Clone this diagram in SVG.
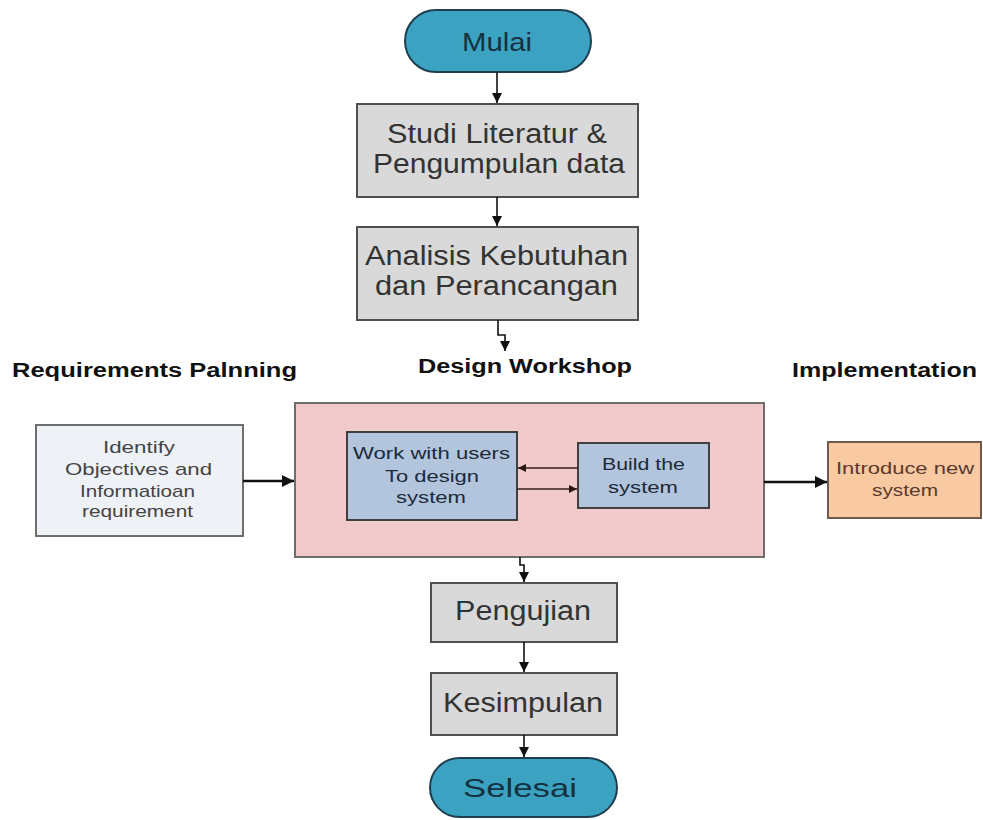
<svg xmlns="http://www.w3.org/2000/svg" width="983" height="820" viewBox="0 0 983 820">
<style>
text{font-family:"Liberation Sans",Arial,sans-serif;text-anchor:middle}
.term{fill:#3ba2c2;stroke:#1f3f4f;stroke-width:2}
.gray{fill:#d9d9d9;stroke:#505050;stroke-width:2}
.big{font-size:27px;fill:#333}
.tt{font-size:26px;fill:#14323f}
.lbl{font-size:20px;font-weight:bold;fill:#111}
.sm{font-size:17px;fill:#444}
.smb{font-size:17px;fill:#1c2a3a}
.con{fill:none;stroke:#111;stroke-width:1.6}
.thick{fill:none;stroke:#111;stroke-width:2.6}
.inner{fill:none;stroke:#3a1e1e;stroke-width:1.5}
</style>
<defs>
<marker id="ah" viewBox="0 0 10 10" refX="10" refY="5" markerWidth="10" markerHeight="10" markerUnits="userSpaceOnUse" orient="auto"><path d="M0,0 L10,5 L0,10 z" fill="#111"/></marker>
<marker id="ahb" viewBox="0 0 10 10" refX="10" refY="5" markerWidth="13" markerHeight="12" markerUnits="userSpaceOnUse" orient="auto"><path d="M0,0 L10,5 L0,10 z" fill="#111"/></marker>
<marker id="ahr" viewBox="0 0 10 10" refX="10" refY="5" markerWidth="10" markerHeight="8" markerUnits="userSpaceOnUse" orient="auto"><path d="M0,0 L10,5 L0,10 z" fill="#2a1414"/></marker>
</defs>

<g id="labels">
<text class="lbl" x="154.5" y="377" textLength="285" lengthAdjust="spacingAndGlyphs">Requirements Palnning</text>
<text class="lbl" x="525" y="373" textLength="214" lengthAdjust="spacingAndGlyphs">Design Workshop</text>
<text class="lbl" x="884.5" y="377" textLength="185" lengthAdjust="spacingAndGlyphs">Implementation</text>
</g>

<g id="mulai">
<rect class="term" x="405" y="10" width="186" height="62" rx="31"/>
<text class="tt" x="497" y="51" textLength="70" lengthAdjust="spacingAndGlyphs">Mulai</text>
</g>

<g id="studi">
<rect class="gray" x="357" y="104" width="281" height="93"/>
<text class="big" x="497" y="143" textLength="220" lengthAdjust="spacingAndGlyphs">Studi Literatur &amp;</text>
<text class="big" x="499" y="173" textLength="252" lengthAdjust="spacingAndGlyphs">Pengumpulan data</text>
</g>

<g id="analisis">
<rect class="gray" x="357" y="227" width="281" height="93"/>
<text class="big" x="496.5" y="265" textLength="263" lengthAdjust="spacingAndGlyphs">Analisis Kebutuhan</text>
<text class="big" x="496.5" y="295" textLength="243" lengthAdjust="spacingAndGlyphs">dan Perancangan</text>
</g>

<g id="identify">
<rect x="36" y="425" width="207" height="111" fill="#eef1f6" stroke="#6e6e6e" stroke-width="2"/>
<text class="sm" x="139" y="453" textLength="72" lengthAdjust="spacingAndGlyphs">Identify</text>
<text class="sm" x="138.5" y="475" textLength="147" lengthAdjust="spacingAndGlyphs">Objectives and</text>
<text class="sm" x="137.5" y="497" textLength="115" lengthAdjust="spacingAndGlyphs">Informatioan</text>
<text class="sm" x="137.5" y="517" textLength="111" lengthAdjust="spacingAndGlyphs">requirement</text>
</g>

<g id="workshop">
<rect x="295" y="403" width="469" height="154" fill="#f1cbcb" stroke="#6e6e6e" stroke-width="2"/>
</g>

<g id="work-users">
<rect x="347" y="432" width="170" height="88" fill="#b2c5dd" stroke="#404040" stroke-width="2"/>
<text class="smb" x="431.5" y="459" textLength="157" lengthAdjust="spacingAndGlyphs">Work with users</text>
<text class="smb" x="432" y="482" textLength="94" lengthAdjust="spacingAndGlyphs">To design</text>
<text class="smb" x="431" y="503" textLength="70" lengthAdjust="spacingAndGlyphs">system</text>
</g>

<g id="build">
<rect x="578" y="443" width="131" height="65" fill="#b2c5dd" stroke="#404040" stroke-width="2"/>
<text class="smb" x="643.5" y="470" textLength="83" lengthAdjust="spacingAndGlyphs">Build the</text>
<text class="smb" x="643" y="493" textLength="70" lengthAdjust="spacingAndGlyphs">system</text>
</g>

<g id="introduce">
<rect x="828" y="442" width="153" height="76" fill="#f9c9a2" stroke="#6e5a4e" stroke-width="2"/>
<text x="905" y="474" textLength="138" lengthAdjust="spacingAndGlyphs" style="font-size:17px;fill:#5a3a2e">Introduce new</text>
<text x="905" y="496" textLength="66" lengthAdjust="spacingAndGlyphs" style="font-size:17px;fill:#5a3a2e">system</text>
</g>

<g id="pengujian">
<rect class="gray" x="431" y="583" width="186" height="59"/>
<text class="big" x="523" y="620" textLength="136" lengthAdjust="spacingAndGlyphs">Pengujian</text>
</g>

<g id="kesimpulan">
<rect class="gray" x="431" y="673" width="186" height="62"/>
<text class="big" x="523" y="712" textLength="160" lengthAdjust="spacingAndGlyphs">Kesimpulan</text>
</g>

<g id="selesai">
<rect class="term" x="430" y="758" width="187" height="59" rx="29.5"/>
<text class="tt" x="520" y="797" textLength="114" lengthAdjust="spacingAndGlyphs">Selesai</text>
</g>

<g id="connectors">
<path class="con" d="M497,72 V103" marker-end="url(#ah)"/>
<path class="con" d="M497,197 V226" marker-end="url(#ah)"/>
<path class="con" d="M498,320 V335 H505 V351" marker-end="url(#ah)"/>
<path class="thick" d="M243,481 H294" marker-end="url(#ahb)"/>
<path class="thick" d="M764,482 H827" marker-end="url(#ahb)"/>
<path class="inner" d="M578,468 H518" marker-end="url(#ahr)"/>
<path class="inner" d="M517,489 H577" marker-end="url(#ahr)"/>
<path class="con" d="M520,557 V565 H524 V582" marker-end="url(#ah)"/>
<path class="con" d="M524,642 V672" marker-end="url(#ah)"/>
<path class="con" d="M524,735 V757" marker-end="url(#ah)"/>
</g>
</svg>
